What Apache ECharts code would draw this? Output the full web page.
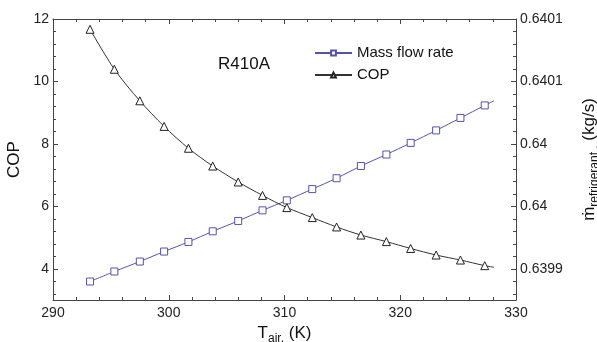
<!DOCTYPE html>
<html><head><meta charset="utf-8">
<script src="https://cdn.jsdelivr.net/npm/echarts@6/dist/echarts.min.js"></script>
<style>html,body{margin:0;padding:0;background:#fff}#c{width:597px;height:342px}</style>
</head><body><div id="c"></div>
<script>
// Data
var tAir = [293.2, 295.3, 297.5, 299.6, 301.7, 303.8, 306.0, 308.1, 310.2, 312.4, 314.5, 316.6, 318.8, 320.9, 323.1, 325.2, 327.3];
var cop = [11.67, 10.39, 9.38, 8.56, 7.86, 7.29, 6.78, 6.35, 5.96, 5.64, 5.34, 5.08, 4.87, 4.65, 4.44, 4.28, 4.10];
var massFlow = [0.6398898, 0.6398978, 0.6399058, 0.6399138, 0.6399215, 0.6399300, 0.6399383, 0.6399468, 0.6399548, 0.6399638, 0.6399725, 0.6399823, 0.6399915, 0.6400008, 0.6400108, 0.6400208, 0.6400308];
// curve end points (no marker)
var tEnd = 328.1;
var copEnd = 4.05;
var massEnd = 0.6400345;
// tick labels
var xTicks = [290, 300, 310, 320, 330];
var copTicks = [4, 6, 8, 10, 12];
var massTickValues = [0.6399, 0.63995, 0.64, 0.64005, 0.6401];
var massTickLabels = ['0.6399', '0.64', '0.64', '0.6401', '0.6401'];

var FONT = 'Liberation Sans, Arial, sans-serif';
var axisColor = '#444';

function pairs(xs, ys, xe, ye) {
  var d = xs.map(function (x, i) { return [x, ys[i]]; });
  d.push({ value: [xe, ye], symbol: 'none' });
  return d;
}
var copMinor = [];
for (var v = 3.2; v < 12; v += 0.4) copMinor.push(+v.toFixed(2));
var copMinorOnly = copMinor.filter(function (v) { return Math.abs(v - Math.round(v / 2) * 2) > 1e-6; });

var chart = echarts.init(document.getElementById('c'), null, { renderer: 'canvas' });
var baseLine = { show: true, lineStyle: { color: axisColor, width: 1 } };

chart.setOption({
  animation: false,
  textStyle: { fontFamily: FONT },
  grid: { left: 53, right: 81, top: 19, bottom: 42, containLabel: false, outerBoundsMode: 'none' },
  title: {
    text: 'R410A', left: 213, top: 51,
    textStyle: { fontFamily: FONT, fontSize: 17, fontWeight: 'normal', color: '#111' }
  },
  legend: {
    orient: 'vertical', left: 309, top: 39, itemWidth: 37, itemHeight: 6, itemGap: 4,
    textStyle: { fontFamily: FONT, fontSize: 15, color: '#111', lineHeight: 18 },
    data: ['Mass flow rate', 'COP']
  },
  xAxis: [{
    type: 'value', min: 290, max: 330, interval: 10,
    axisLine: baseLine,
    axisTick: { inside: true, length: 5, lineStyle: { color: axisColor } },
    minorTick: { show: true, splitNumber: 5, length: 3, lineStyle: { color: axisColor } },
    splitLine: { show: false },
    axisLabel: { margin: 6, fontSize: 14, color: '#222', fontFamily: FONT, customValues: xTicks },
    name: '{m|T}{sub|air,}{m| (K)}', nameLocation: 'middle', nameGap: 20,
    nameTextStyle: {
      rich: {
        m: { fontSize: 17, fontFamily: FONT, color: '#111', lineHeight: 20, verticalAlign: 'bottom' },
        sub: { fontSize: 12, fontFamily: FONT, color: '#111', lineHeight: 12, verticalAlign: 'bottom', padding: [0, 0, -3, 0] }
      }
    }
  }, {
    type: 'value', position: 'top', min: 290, max: 330, interval: 10,
    axisLine: baseLine,
    axisTick: { inside: true, length: 5, lineStyle: { color: axisColor } },
    minorTick: { show: true, splitNumber: 5, length: 3, lineStyle: { color: axisColor } },
    splitLine: { show: false }, axisLabel: { show: false }
  }],
  yAxis: [{
    type: 'value', position: 'left', min: 3, max: 12,
    axisLine: baseLine,
    axisTick: { inside: true, length: 5, customValues: copTicks, lineStyle: { color: axisColor } },
    splitLine: { show: false },
    axisLabel: { margin: 4, fontSize: 14, color: '#222', fontFamily: FONT, customValues: copTicks },
    name: 'COP', nameLocation: 'middle', nameRotate: 90, nameGap: 24,
    nameTextStyle: { fontSize: 17, fontFamily: FONT, color: '#111' }
  }, {
    type: 'value', position: 'right', min: 0.639875, max: 0.6401,
    axisLine: baseLine,
    axisTick: { inside: true, length: 5, customValues: massTickValues, lineStyle: { color: axisColor } },
    splitLine: { show: false },
    axisLabel: {
      margin: 4, fontSize: 14, color: '#222', fontFamily: FONT, customValues: massTickValues,
      formatter: function (val) {
        var best = 0;
        massTickValues.forEach(function (t, i) { if (Math.abs(t - val) < Math.abs(massTickValues[best] - val)) best = i; });
        return massTickLabels[best];
      }
    },
    name: '{m|ṁ}{sub|refrigerant ,}{m| (kg/s)}', nameLocation: 'middle', nameRotate: 90, nameGap: 62,
    nameTextStyle: {
      rich: {
        m: { fontSize: 17, fontFamily: FONT, color: '#111', lineHeight: 20, verticalAlign: 'bottom' },
        sub: { fontSize: 12, fontFamily: FONT, color: '#111', lineHeight: 12, verticalAlign: 'bottom', padding: [0, 0, -3, 0] }
      }
    }
  }, {
    type: 'value', position: 'left', min: 3, max: 12,
    axisLine: { show: false }, splitLine: { show: false }, axisLabel: { show: false },
    axisTick: { inside: true, length: 3, customValues: copMinorOnly, lineStyle: { color: axisColor } }
  }, {
    type: 'value', position: 'right', min: 3, max: 12,
    axisLine: { show: false }, splitLine: { show: false }, axisLabel: { show: false },
    axisTick: { inside: true, length: 3, customValues: copMinorOnly, lineStyle: { color: axisColor } }
  }],
  series: [{
    name: 'Mass flow rate', type: 'line', yAxisIndex: 1, smooth: 0.3,
    symbol: 'rect', symbolSize: 7,
    lineStyle: { color: '#5454a4', width: 1 },
    itemStyle: { color: '#fff', borderColor: '#5454a4', borderWidth: 1 },
    data: pairs(tAir, massFlow, tEnd, massEnd)
  }, {
    name: 'COP', type: 'line', yAxisIndex: 0, smooth: 0.3,
    symbol: 'triangle', symbolSize: 8,
    lineStyle: { color: '#333', width: 1 },
    itemStyle: { color: '#fff', borderColor: '#222', borderWidth: 1 },
    data: pairs(tAir, cop, tEnd, copEnd)
  }]
});
</script>
</body></html>
